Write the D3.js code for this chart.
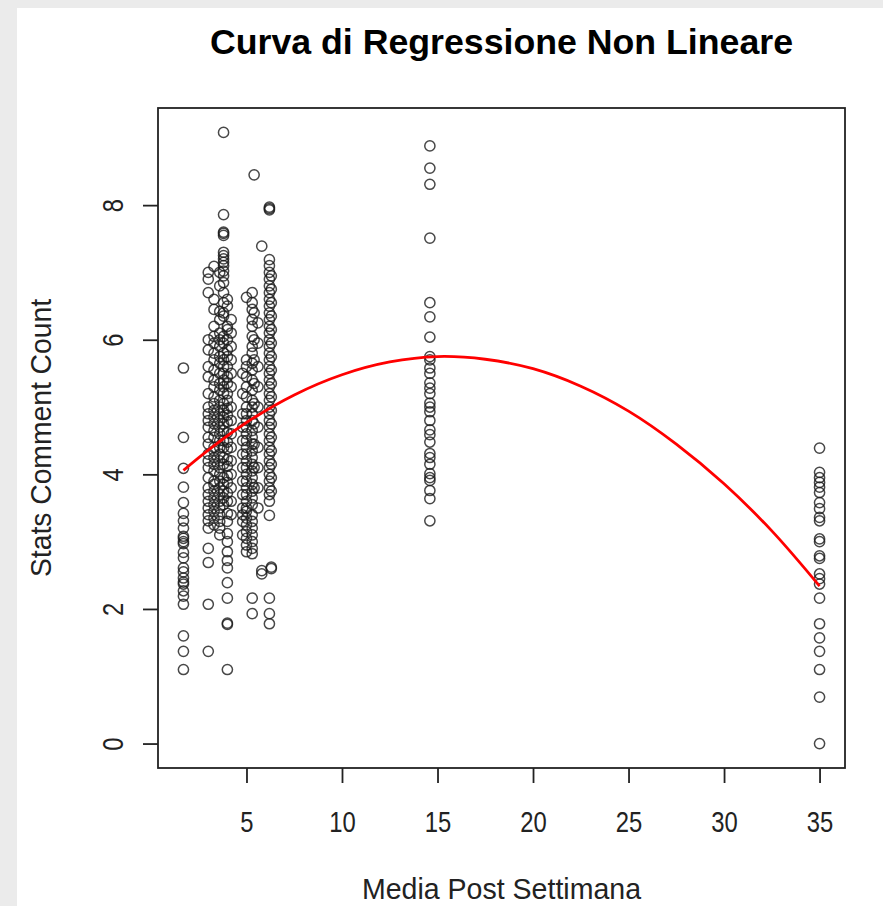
<!DOCTYPE html>
<html><head><meta charset="utf-8">
<script src="https://cdn.jsdelivr.net/npm/d3@7"></script>
<style>html,body{margin:0;padding:0;background:#ebebeb;} svg{display:block;}</style>
</head><body><svg id="chart" width="883" height="906"></svg>
<script>
const titleText = "Curva di Regressione Non Lineare";
const xLabel = "Media Post Settimana";
const yLabel = "Stats Comment Count";
const xTicks = [5, 10, 15, 20, 25, 30, 35];
const yTicks = [0, 2, 4, 6, 8];

// scatter data: x value of each column and its y values
const colX = [1.7, 3.0, 3.3, 3.6, 3.8, 4.0, 4.2, 4.8, 5.0, 5.3, 5.4, 5.6, 5.8, 6.2, 6.3, 14.6, 35];
const y_1_7 = [5.58, 4.55, 4.09, 3.81, 3.58, 3.42, 3.31, 3.2, 3.08, 3.05, 3.0, 2.97, 2.84, 2.76, 2.61, 2.55, 2.46, 2.4, 2.37, 2.27, 2.19, 2.07, 1.6, 1.37, 1.1];
const y_3_0 = [7.0, 6.9, 6.7, 6.0, 5.85, 5.6, 5.45, 5.2, 5.0, 4.9, 4.8, 4.7, 4.55, 4.45, 4.3, 4.2, 4.1, 3.95, 3.8, 3.7, 3.6, 3.5, 3.4, 3.31, 3.2, 2.9, 2.69, 2.07, 1.37];
const y_3_3 = [7.09, 6.6, 6.45, 6.2, 6.05, 5.95, 5.8, 5.7, 5.55, 5.4, 5.3, 5.15, 5.05, 4.95, 4.85, 4.75, 4.65, 4.55, 4.4, 4.35, 4.25, 4.15, 4.05, 3.9, 3.85, 3.75, 3.65, 3.55, 3.45, 3.35, 3.25];
const y_3_6 = [7.0, 6.8, 6.42, 6.3, 6.1, 6.0, 5.9, 5.75, 5.65, 5.5, 5.35, 5.25, 5.1, 5.0, 4.9, 4.8, 4.7, 4.6, 4.5, 4.4, 4.3, 4.2, 4.1, 4.0, 3.9, 3.8, 3.7, 3.6, 3.5, 3.4, 3.3, 3.2, 3.1];
const y_3_8 = [9.08, 7.86, 7.6, 7.58, 7.55, 7.3, 7.25, 7.2, 7.15, 7.1, 7.02, 6.95, 6.85, 6.7, 6.55, 6.4, 6.35, 6.05, 5.95, 5.8, 5.7, 5.6, 5.5, 5.4, 5.3, 5.2, 5.05, 4.95, 4.85, 4.75, 4.65, 4.5, 4.4, 4.25, 4.15, 3.95, 3.85, 3.75, 3.65, 3.55];
const y_4_0 = [6.6, 6.5, 6.2, 6.15, 6.0, 5.85, 5.75, 5.6, 5.45, 5.35, 5.2, 5.1, 4.98, 4.88, 4.78, 4.62, 4.48, 4.38, 4.22, 4.12, 3.98, 3.88, 3.72, 3.6, 3.42, 3.3, 3.12, 3.0, 2.85, 2.72, 2.61, 2.39, 2.16, 1.79, 1.77, 1.1];
const y_4_2 = [6.3, 6.1, 5.9, 5.7, 5.5, 5.3, 5.0, 4.8, 4.6, 4.4, 4.2, 4.0, 3.8, 3.6, 3.4];
const y_4_8 = [5.5, 5.2, 4.9, 4.7, 4.5, 4.3, 4.1, 3.9, 3.7, 3.5, 3.4, 3.3, 3.1];
const y_5_0 = [6.63, 5.7, 5.6, 5.45, 5.3, 5.15, 5.0, 4.9, 4.8, 4.7, 4.6, 4.5, 4.4, 4.3, 4.2, 4.1, 4.0, 3.9, 3.8, 3.7, 3.6, 3.5, 3.45, 3.35, 3.25, 3.15, 3.05, 2.95, 2.85];
const y_5_3 = [6.7, 6.55, 6.45, 6.3, 6.2, 6.05, 5.9, 5.8, 5.65, 5.55, 5.4, 5.25, 5.1, 5.0, 4.9, 4.8, 4.65, 4.55, 4.45, 4.35, 4.25, 4.15, 4.05, 3.95, 3.85, 3.75, 3.65, 3.55, 3.4, 3.3, 3.2, 3.1, 3.0, 2.9, 2.82, 2.16, 1.93];
const y_5_4 = [8.45, 6.4, 6.0, 5.7, 5.35, 5.05, 4.75, 4.45, 4.1, 3.8];
const y_5_6 = [6.25, 5.95, 5.6, 5.3, 5.0, 4.7, 4.4, 4.1, 3.8, 3.5];
const y_5_8 = [7.39, 2.57, 2.52];
const y_6_2 = [7.97, 7.95, 7.93, 7.19, 7.1, 7.0, 6.9, 6.8, 6.7, 6.6, 6.5, 6.4, 6.3, 6.2, 6.1, 6.0, 5.9, 5.8, 5.7, 5.6, 5.5, 5.4, 5.3, 5.2, 5.1, 5.0, 4.9, 4.8, 4.7, 4.6, 4.5, 4.4, 4.3, 4.2, 4.1, 4.0, 3.9, 3.8, 3.7, 3.6, 3.39, 2.16, 1.93, 1.78];
const y_6_3 = [6.95, 6.75, 6.55, 6.35, 6.15, 5.95, 5.75, 5.55, 5.35, 5.15, 4.95, 4.75, 4.55, 4.35, 4.15, 3.95, 3.75, 2.6, 2.62];
const y_14_6 = [8.88, 8.55, 8.31, 7.51, 6.55, 6.34, 6.04, 5.75, 5.7, 5.58, 5.5, 5.36, 5.28, 5.2, 5.06, 5.0, 4.93, 4.8, 4.66, 4.59, 4.48, 4.31, 4.25, 4.15, 4.01, 3.95, 3.91, 3.76, 3.64, 3.31];
const y_35 = [4.39, 4.03, 3.95, 3.88, 3.81, 3.73, 3.58, 3.49, 3.36, 3.31, 3.04, 3.0, 2.79, 2.75, 2.52, 2.45, 2.37, 2.16, 1.78, 1.57, 1.37, 1.1, 0.69, 0];
const colY = [y_1_7, y_3_0, y_3_3, y_3_6, y_3_8, y_4_0, y_4_2, y_4_8, y_5_0, y_5_3, y_5_4, y_5_6, y_5_8, y_6_2, y_6_3, y_14_6, y_35];

// fitted regression curve
const fitX = [1.7, 3, 5, 7.5, 10, 12.5, 15, 17.5, 20, 22.5, 25, 27.5, 30, 32.5, 35];
const fitY = [4.06, 4.36, 4.77, 5.18, 5.48, 5.67, 5.75, 5.71, 5.57, 5.31, 4.94, 4.45, 3.86, 3.16, 2.34];

const points = [];
colX.forEach((x, i) => colY[i].forEach(y => points.push({x, y})));

const svg = d3.select("#chart");
svg.append("rect").attr("x", 17).attr("y", 8).attr("width", 866).attr("height", 898).attr("fill", "#fff");

const L = 158, R = 845, T = 108, B = 768;
const xs = points.map(d => d.x), ys = points.map(d => d.y);
const [x0, x1] = d3.extent(xs), [y0, y1] = d3.extent(ys);
const xr = (x1 - x0) * 0.04, yr = (y1 - y0) * 0.04;
const x = d3.scaleLinear().domain([x0 - xr, x1 + xr]).range([L, R]);
const y = d3.scaleLinear().domain([y0 - yr, y1 + yr]).range([B, T]);

const font = "Liberation Sans, Arial, sans-serif";
function condense(sel, k) {
  sel.each(function () {
    const w = this.getComputedTextLength();
    d3.select(this).attr("textLength", w * k).attr("lengthAdjust", "spacingAndGlyphs");
  });
}

// points
svg.append("g").selectAll("circle").data(points).join("circle")
  .attr("cx", d => x(d.x)).attr("cy", d => y(d.y)).attr("r", 5.1)
  .attr("fill", "none").attr("stroke", "#1a1a1a").attr("stroke-width", 1.5).attr("stroke-opacity", 0.8);

// curve
svg.append("path").datum(fitX.map((v, i) => [v, fitY[i]]))
  .attr("d", d3.line().x(d => x(d[0])).y(d => y(d[1])).curve(d3.curveCatmullRom))
  .attr("fill", "none").attr("stroke", "#ff0000").attr("stroke-width", 2.8);

// box
svg.append("rect").attr("x", L).attr("y", T).attr("width", R - L).attr("height", B - T)
  .attr("fill", "none").attr("stroke", "#222").attr("stroke-width", 1.8);

// x axis
const gx = svg.append("g").attr("transform", `translate(0,${B})`)
  .call(d3.axisBottom(x).tickValues(xTicks).tickSize(15).tickPadding(40).tickSizeOuter(0));
gx.select(".domain").remove();
gx.selectAll("line").attr("stroke", "#222").attr("stroke-width", 1.8);
gx.selectAll("text").attr("font-family", font).attr("font-size", 29).attr("fill", "#222").attr("dy", "0.3em")
  .call(condense, 0.82);

// y axis
const gy = svg.append("g").attr("transform", `translate(${L},0)`)
  .call(d3.axisLeft(y).tickValues(yTicks).tickSize(15).tickSizeOuter(0));
gy.select(".domain").remove();
gy.selectAll("line").attr("stroke", "#222").attr("stroke-width", 1.8);
gy.selectAll("text").attr("font-family", font).attr("font-size", 29).attr("fill", "#222")
  .attr("x", null).attr("dy", null).attr("text-anchor", "middle").attr("dominant-baseline", "central")
  .attr("transform", "translate(-45,0) rotate(-90)").call(condense, 0.82);

// title
svg.append("text").attr("x", (L + R) / 2).attr("y", 54).attr("text-anchor", "middle")
  .attr("font-family", font).attr("font-weight", "bold").attr("font-size", 35).attr("fill", "#000")
  .attr("textLength", 583).attr("lengthAdjust", "spacingAndGlyphs").text(titleText);

svg.append("text").attr("x", (L + R) / 2).attr("y", 899).attr("text-anchor", "middle")
  .attr("font-family", font).attr("font-size", 29).attr("fill", "#222")
  .attr("textLength", 279).attr("lengthAdjust", "spacingAndGlyphs").text(xLabel);

svg.append("text").attr("transform", `translate(51,${(T + B) / 2}) rotate(-90)`).attr("text-anchor", "middle")
  .attr("font-family", font).attr("font-size", 29).attr("fill", "#222")
  .attr("textLength", 278).attr("lengthAdjust", "spacingAndGlyphs").text(yLabel);
</script></body></html>
